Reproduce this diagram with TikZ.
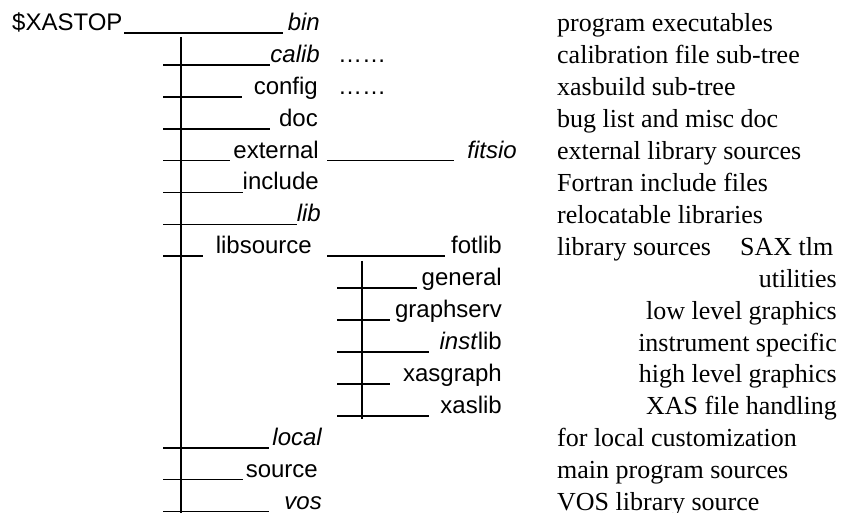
\documentclass[tikz,border=0pt]{standalone}
\usepackage{fontspec}
\setmainfont{Liberation Serif}
\setsansfont{Liberation Sans}
\newcommand\ry[1]{(33+31.9*(#1-1))}
\begin{document}
\begin{tikzpicture}[x=1pt,y=-1pt,
  sans/.style={font=\sffamily\fontsize{24}{28}\selectfont, inner sep=0pt},
  desc/.style={font=\rmfamily\fontsize{26}{30}\selectfont, inner sep=0pt},
  ul/.style={line width=1.7pt},
  trunk/.style={line width=2.6pt}]
\useasboundingbox (0,0) rectangle (841,513);
% root
\node[sans,anchor=base west] (root) at (12,{\ry{1}-2.5}) {\$XASTOP};
\coordinate (r1a) at (124,{\ry{1}});
\coordinate (r1b) at (283,{\ry{1}});
\draw[ul] (r1a) -- (r1b);
\node[sans,anchor=base east] (bin) at (320,{\ry{1}-2.5}) {\itshape bin};
% main trunk
\coordinate (t1top) at (181,37);
\coordinate (t1bot) at (181,513);
\draw[trunk] (t1top) -- (t1bot);
% main rows: row / label / underline end / right edge
\foreach \r/\lab/\ue/\re/\nm in {
  2/{\itshape calib}/270/320/calib,
  3/{config}/242/318/config,
  4/{doc}/270/318/doc,
  5/{external}/230/319/external,
  6/{include}/243/319/include,
  7/{\itshape lib}/297/321/lib,
  8/{libsource}/203/312/libsource,
  14/{\itshape local}/269/322/local,
  15/{source}/243/318/source,
  16/{\itshape vos}/269/322/vos}{
  \coordinate (\nm a) at (163,{\ry{\r}});
  \coordinate (\nm b) at (\ue,{\ry{\r}});
  \draw[ul] (\nm a) -- (\nm b);
  \node[sans,anchor=base east] (\nm) at (\re,{\ry{\r}-2.5}) {\lab};
}
% dots
\node[sans,anchor=base west] (dots1) at (338,{\ry{2}-2.5}) {……};
\node[sans,anchor=base west] (dots2) at (338,{\ry{3}-2.5}) {……};
% external -> fitsio
\coordinate (exa) at (327,{\ry{5}});
\coordinate (exb) at (454,{\ry{5}});
\draw[ul] (exa) -- (exb);
\node[sans,anchor=base east] (fitsio) at (517,{\ry{5}-2.5}) {\itshape fitsio};
% libsource -> fotlib
\coordinate (lsa) at (327,{\ry{8}});
\coordinate (lsb) at (445,{\ry{8}});
\draw[ul] (lsa) -- (lsb);
\node[sans,anchor=base east] (fotlib) at (502,{\ry{8}-2.5}) {fotlib};
% sub trunk
\coordinate (t2top) at (362,261);
\coordinate (t2bot) at (362,419);
\draw[trunk] (t2top) -- (t2bot);
\foreach \r/\lab/\ue/\nm in {
  9/{general}/417/general,
  10/{graphserv}/390/graphserv,
  11/{\textit{inst}lib}/429/instlib,
  12/{xasgraph}/390/xasgraph,
  13/{xaslib}/429/xaslib}{
  \coordinate (\nm a) at (337,{\ry{\r}});
  \coordinate (\nm b) at (\ue,{\ry{\r}});
  \draw[ul] (\nm a) -- (\nm b);
  \node[sans,anchor=base east] (\nm) at (502,{\ry{\r}-2.5}) {\lab};
}
% descriptions
\foreach \r/\txt in {
  1/{program executables},
  2/{calibration file sub-tree},
  3/{xasbuild sub-tree},
  4/{bug list and misc doc},
  5/{external library sources},
  6/{Fortran include files},
  7/{relocatable libraries},
  8/{library sources},
  14/{for local customization},
  15/{main program sources},
  16/{VOS library source}}{
  \node[desc,anchor=base west] (d\r) at (557,{\ry{\r}-1}) {\txt};
}
\node[desc,anchor=base west] (sax) at (740,{\ry{8}-1}) {SAX tlm};
\foreach \r/\txt in {
  9/{utilities},
  10/{low level graphics},
  11/{instrument specific},
  12/{high level graphics},
  13/{XAS file handling}}{
  \node[desc,anchor=base east] (d\r) at (837,{\ry{\r}-1}) {\txt};
}
\end{tikzpicture}
\end{document}
